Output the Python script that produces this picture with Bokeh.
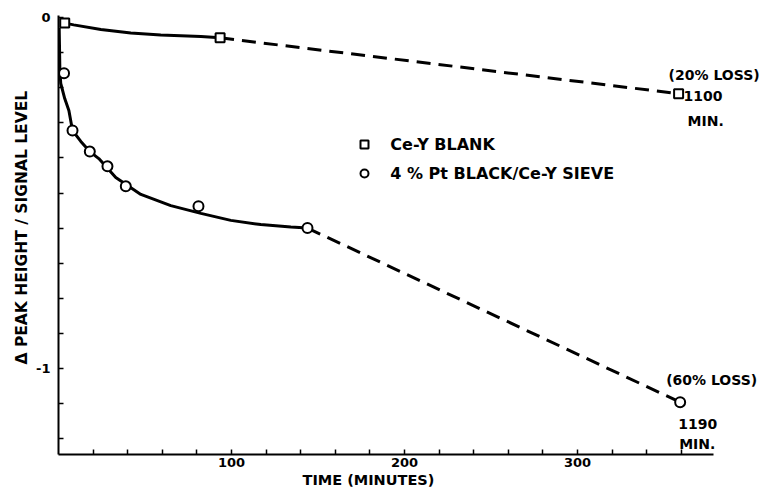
from bokeh.plotting import figure
from bokeh.models import FixedTicker, Legend, LegendItem, Label, Range1d, Title
from bokeh.embed import file_html
from bokeh.resources import INLINE

# ---- data ----
blank_t = [3.6, 93.4, 358.4]
blank_v = [-0.016, -0.058, -0.217]

pt_t = [3.2, 8.1, 18.1, 28.3, 38.9, 80.9, 143.9, 359.3]
pt_v = [-0.159, -0.322, -0.382, -0.424, -0.481, -0.538, -0.600, -1.096]

# hand-drawn smooth curves
blank_curve_t = [3.6, 8.8, 24.5, 41.8, 59.1, 82.3, 93.4]
blank_curve_v = [-0.016, -0.021, -0.034, -0.044, -0.050, -0.054, -0.058]

pt_curve_t = [0.4, 0.8, 1.3, 3.6, 6.0, 8.1, 12.9, 18.1, 23.3, 33.1, 47.6, 64.9, 82.3, 99.6, 116.9, 134.3, 143.9]
pt_curve_v = [-0.03, -0.151, -0.188, -0.231, -0.265, -0.322, -0.353, -0.382, -0.402, -0.456, -0.504, -0.536, -0.558, -0.578, -0.590, -0.597, -0.600]

x_major = [100, 200, 300]
x_minor = [20, 40, 60, 80, 120, 140, 160, 180, 220, 240, 260, 280, 320, 340, 360]
y_major = [0, -1]
y_minor = [-0.1, -0.2, -0.3, -0.4, -0.5, -0.6, -0.7, -0.8, -0.9, -1.1, -1.2]
y_labels = {0: "0", -1: "-1"}

X_AXIS_END = 378.6
FONT = "DejaVu Sans"

p = figure(width=766, height=491,
           x_range=Range1d(0, 409.2), y_range=Range1d(-1.245, 0.0057),
           output_backend="svg", toolbar_location=None,
           min_border_left=58, min_border_right=0,
           min_border_top=15, min_border_bottom=37)
p.outline_line_color = None
p.xgrid.visible = False
p.ygrid.visible = False
p.background_fill_color = "white"

for ax in (p.xaxis[0], p.yaxis[0]):
    ax.axis_line_width = 2
    ax.axis_line_color = "black"
    ax.major_tick_in = 5
    ax.major_tick_out = 0
    ax.minor_tick_in = 5
    ax.minor_tick_out = 0
    ax.major_tick_line_width = 1.5
    ax.minor_tick_line_width = 1.5
    ax.major_tick_line_color = "black"
    ax.minor_tick_line_color = "black"
    ax.major_label_text_font = FONT
    ax.major_label_text_font_style = "bold"
    ax.major_label_text_font_size = "13px"
    ax.major_label_text_color = "black"

p.xaxis.bounds = (0, X_AXIS_END)
p.xaxis.ticker = FixedTicker(ticks=x_major, minor_ticks=x_minor)
p.yaxis.ticker = FixedTicker(ticks=y_major, minor_ticks=y_minor)
p.yaxis.major_label_overrides = y_labels
p.xaxis.major_label_standoff = 3
p.yaxis.major_label_standoff = 8

# axis titles (placed as side titles so they can sit where the original puts them)
p.add_layout(Title(text="TIME (MINUTES)", align="left", offset=244, standoff=0,
                   text_font=FONT, text_font_style="bold", text_font_size="14.5px",
                   text_color="black"), "below")
p.add_layout(Title(text="Δ PEAK HEIGHT / SIGNAL LEVEL", align="left", offset=90, standoff=6,
                   text_font=FONT, text_font_style="bold", text_font_size="15.5px",
                   text_color="black"), "left")

# solid hand-fit curves
p.line(blank_curve_t, blank_curve_v, line_color="black", line_width=3)
p.line(pt_curve_t, pt_curve_v, line_color="black", line_width=3)

# dashed extrapolations to the long-time points
p.line(blank_t[1:], blank_v[1:], line_color="black", line_width=3, line_dash="14 8")
p.line(pt_t[6:], pt_v[6:], line_color="black", line_width=3, line_dash="14 8")

sq = p.scatter(blank_t, blank_v, marker="square", size=9,
               fill_color="white", line_color="black", line_width=2)
ci = p.scatter(pt_t, pt_v, marker="circle", size=10,
               fill_color="white", line_color="black", line_width=2)

legend = Legend(items=[LegendItem(label="Ce-Y BLANK", renderers=[sq]),
                       LegendItem(label="4 % Pt BLACK/Ce-Y SIEVE", renderers=[ci])],
                location=(296.3, 268),
                padding=0, margin=0, spacing=3,
                glyph_width=20, glyph_height=26, label_height=26,
                label_standoff=16,
                border_line_color=None, background_fill_alpha=0,
                label_text_font=FONT, label_text_font_style="bold",
                label_text_font_size="16px", label_text_color="black")
p.add_layout(legend)

def note(x, y, text, dx, dy):
    p.add_layout(Label(x=x, y=y, text=text, x_offset=dx, y_offset=dy,
                       text_font=FONT, text_font_style="bold", text_font_size="14px",
                       text_color="black", text_align="left", text_baseline="middle"))

note(blank_t[2], blank_v[2], "(20% LOSS)", -10, 19)
note(blank_t[2], blank_v[2], "1100", 5, -2)
note(blank_t[2], blank_v[2], "MIN.", 9, -27)
note(pt_t[7], pt_v[7], "(60% LOSS)", -14, 22)
note(pt_t[7], pt_v[7], "1190", -2, -22)
note(pt_t[7], pt_v[7], "MIN.", -1, -42)

open("out.html", "w").write(file_html(p, INLINE))
